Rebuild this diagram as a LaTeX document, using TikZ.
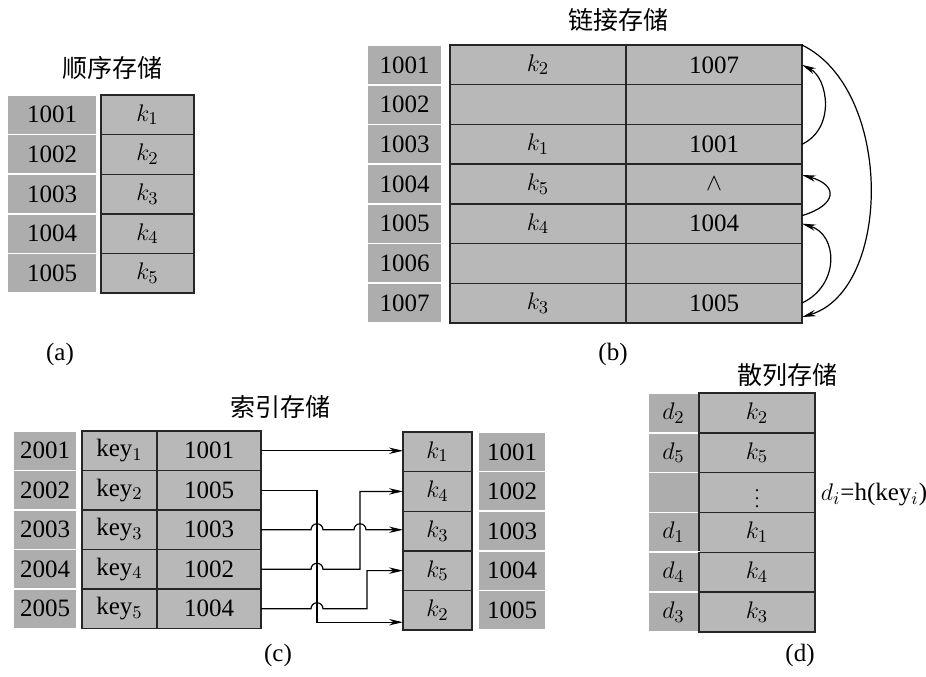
\documentclass[tikz,border=0pt]{standalone}
\usepackage{amsmath, amssymb}
\usepackage{fontspec}
\setmainfont{Liberation Serif}
\newfontfamily\cjk{Noto Sans CJK SC}
\usetikzlibrary{arrows.meta, calc}

\definecolor{addrgray}{gray}{0.68}
\definecolor{cellgray}{gray}{0.72}

\tikzset{
  addr/.style={fill=addrgray, draw=white, line width=0.8pt, inner sep=0pt, outer sep=0pt},
  cell/.style={fill=cellgray, draw=black!85, line width=0.7pt, inner sep=0pt, outer sep=0pt},
  arr/.style={-{Stealth[length=7pt,width=3.2pt]}, line width=0.6pt},
  heading/.style={font=\cjk\fontsize{12.5}{15}\selectfont},
}

\begin{document}
\begin{tikzpicture}[x=0.5pt, y=-0.5pt, every node/.style={font=\fontsize{12.5}{15}\selectfont}]
\useasboundingbox (0,0) rectangle (926,676) ;

% (a) sequential
\node[heading] (ta) at (112,68) {顺序存储} ;
\foreach \i in {1,...,5} {
  \node[addr, minimum width=45pt, minimum height=19.8pt] (sa\i) at (52,{75.2+39.6*\i}) {100\i} ;
  \node[cell, minimum width=46.5pt, minimum height=19.8pt] (sk\i) at (147.5,{75.2+39.6*\i}) {$k_\i$} ;
}
\node (capa) at (60,354) {(a)} ;

% (b) linked
\node[heading] (tb) at (618,20) {链接存储} ;
\foreach \i/\k/\p in {1/$k_2$/1007, 2/{}/{}, 3/$k_1$/1001, 4/$k_5$/$\wedge$, 5/$k_4$/1004, 6/{}/{}, 7/$k_3$/1005} {
  \node[addr, minimum width=37.5pt, minimum height=19.85pt] (la\i) at (404.5,{25.15+39.7*\i}) {100\i} ;
  \node[cell, minimum width=88pt, minimum height=19.85pt] (lk\i) at (538,{25.15+39.7*\i}) {\k} ;
  \node[cell, minimum width=88pt, minimum height=19.85pt] (lp\i) at (714,{25.15+39.7*\i}) {\p} ;
}
\draw[arr] (lp3.east) .. controls +(34,-16) and +(26,13) .. (lp1.east) ;
\draw[arr] ($(lp5.east)+(0,-8)$) .. controls +(36,-11) and +(36,10) .. ($(lp4.east)+(0,-9)$) ;
\draw[arr] (lp7.east) .. controls +(38,-18) and +(36,11) .. (lp5.east) ;
\draw[arr] (lp1.north east) .. controls +(92,45) and +(90,-27) .. ($(lp7.east)+(0,14)$) ;
\node (capb) at (613,354) {(b)} ;

% (c) indexed
\node[heading] (tc) at (280,407) {索引存储} ;
\foreach \i/\p in {1/1001, 2/1005, 3/1003, 4/1002, 5/1004} {
  \node[addr, minimum width=32pt, minimum height=19.75pt] (ia\i) at (45,{411.25+39.5*\i}) {200\i} ;
  \node[cell, minimum width=37.5pt, minimum height=19.75pt] (ik\i) at (119.5,{411.25+39.5*\i}) {key$_\i$} ;
  \node[cell, minimum width=52pt, minimum height=19.75pt] (ip\i) at (209,{411.25+39.5*\i}) {\p} ;
}
\foreach \i/\k/\a in {1/1/1001, 2/4/1002, 3/3/1003, 4/5/1004, 5/2/1005} {
  \node[cell, minimum width=34.5pt, minimum height=19.8pt] (ck\i) at (437.5,{412.2+39.6*\i}) {$k_\k$} ;
  \node[addr, minimum width=34pt, minimum height=19.8pt] (ca\i) at (512,{412.2+39.6*\i}) {\a} ;
}
\coordinate (jA) at (317,0) ;
\coordinate (jB) at (360,0) ;
\coordinate (jC) at (367,0) ;
\coordinate (ck5low) at ($(ck5.west)+(0,12)$) ;
\draw[arr] (ip1.east) -- (ip1.east -| ck1.west) ;
\draw[arr] (ip2.east) -| (jA |- ck5low) -- (ck5low) ;
\draw[arr] (ip3.east) -- ($(ip3.east -| jA)+(-3pt,0)$) arc[start angle=180, end angle=0, radius=3pt]
  -- ($(ip3.east -| jB)+(-3pt,0)$) arc[start angle=180, end angle=0, radius=3pt] -- (ip3.east -| ck3.west) ;
\draw[arr] (ip4.east) -- ($(ip4.east -| jA)+(-3pt,0)$) arc[start angle=180, end angle=0, radius=3pt]
  -| (jB |- ck2.west) -- (ck2.west) ;
\draw[arr] (ip5.east) -- ($(ip5.east -| jA)+(-3pt,0)$) arc[start angle=180, end angle=0, radius=3pt]
  -| (jC |- ck4.west) -- (ck4.west) ;
\node (capc) at (278,655) {(c)} ;

% (d) hashed
\node[heading] (td) at (787,375) {散列存储} ;
\foreach \i/\d/\k in {1/$d_2$/$k_2$, 2/$d_5$/$k_5$, 3/{}/{\fontsize{9}{9}\selectfont$\vdots$}, 4/$d_1$/$k_1$, 5/$d_4$/$k_4$, 6/$d_3$/$k_3$} {
  \node[addr, minimum width=25.5pt, minimum height=19.9pt] (ha\i) at (673.5,{373.1+39.8*\i}) {\d} ;
  \node[cell, minimum width=58pt, minimum height=19.9pt] (hk\i) at (757,{373.1+39.8*\i}) {\k} ;
}
\node (hf) at (874,495) {$d_i$=h(key$_i$)} ;
\node (capd) at (800,655) {(d)} ;
\end{tikzpicture}
\end{document}
